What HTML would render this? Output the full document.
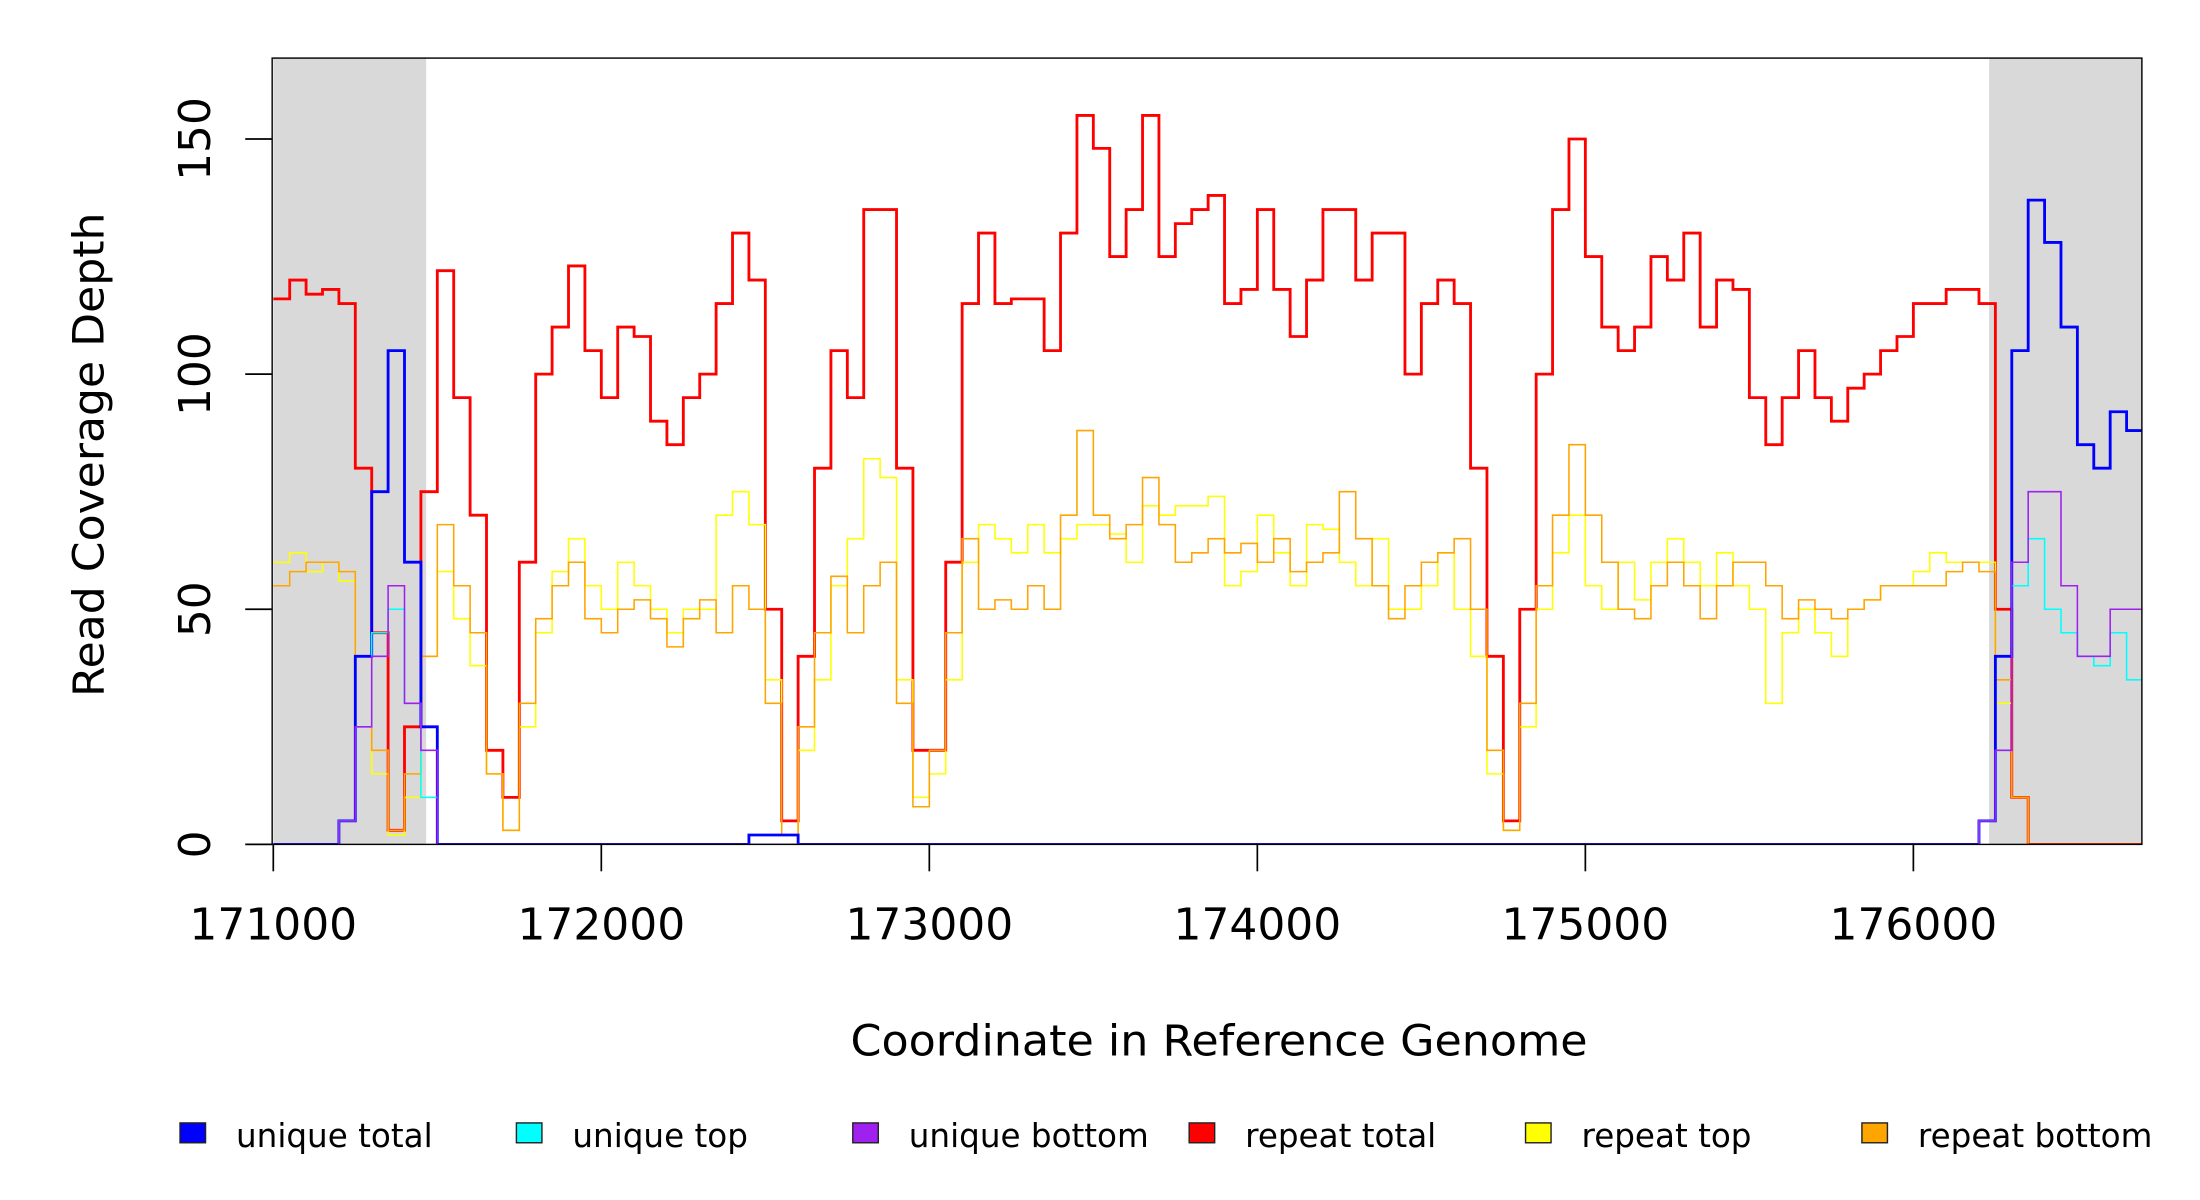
<!DOCTYPE html>
<html><head><meta charset="utf-8"><style>
html,body{margin:0;padding:0;background:#fff;}
svg{display:block;font-family:"DejaVu Sans","Liberation Sans",sans-serif;}
</style></head><body>
<svg id="chart" width="2200" height="1200" viewBox="0 0 1552 847" preserveAspectRatio="none" xmlns="http://www.w3.org/2000/svg">
<defs><clipPath id="plotclip"><rect x="192" y="41" width="1319" height="555"/></clipPath></defs>
<g id="shading"></g>
<g id="series" clip-path="url(#plotclip)"></g>
<rect x="192" y="41" width="1319" height="555" fill="none" stroke="#000" stroke-width="1"/>
<g id="yaxis"></g>
<g id="xaxis"></g>
<text x="860" y="745" font-size="30" text-anchor="middle" textLength="520" lengthAdjust="spacingAndGlyphs">Coordinate in Reference Genome</text>
<text transform="translate(73,321) rotate(-90)" font-size="30" text-anchor="middle" textLength="342" lengthAdjust="spacingAndGlyphs">Read Coverage Depth</text>
<g id="legend"></g>
</svg>
<script>
const startBp = 171000;
const binSize = 50;
const xTicks = [171000,172000,173000,174000,175000,176000];
const yTicks = [0,50,100,150];
const shadedRegions = [[171000,171466],[176231,176700]];
const repeatTotal = [116,120,117,118,115,80,45,3,25,75,122,95,70,20,10,60,100,110,123,105,95,110,108,90,85,95,100,115,130,120,50,5,40,80,105,95,135,135,80,20,20,60,115,130,115,116,116,105,130,155,148,125,135,155,125,132,135,138,115,118,135,118,108,120,135,135,120,130,130,100,115,120,115,80,40,5,50,100,135,150,125,110,105,110,125,120,130,110,120,118,95,85,95,105,95,90,97,100,105,108,115,115,118,118,115,50,10,0,0,0,0,0,0,0,0];
const repeatTop = [60,62,58,60,56,40,15,2,10,40,58,48,38,15,3,25,45,58,65,55,50,60,55,50,45,50,50,70,75,68,35,2,20,35,55,65,82,78,35,10,15,35,60,68,65,62,68,62,65,68,68,66,60,72,70,72,72,74,55,58,70,62,55,68,67,60,55,65,50,50,55,62,50,40,15,3,25,50,62,70,55,50,60,52,60,65,60,55,62,55,50,30,45,50,45,40,50,52,55,55,58,62,60,60,60,30,10,0,0,0,0,0,0,0,0];
const repeatBottom = [55,58,60,60,58,40,20,3,15,40,68,55,45,15,3,30,48,55,60,48,45,50,52,48,42,48,52,45,55,50,30,2,25,45,57,45,55,60,30,8,20,45,65,50,52,50,55,50,70,88,70,65,68,78,68,60,62,65,62,64,60,65,58,60,62,75,65,55,48,55,60,62,65,50,20,3,30,55,70,85,70,60,50,48,55,60,55,48,55,60,60,55,48,52,50,48,50,52,55,55,55,55,58,60,58,35,10,0,0,0,0,0,0,0,0];
const uniqueTotal = [0,0,0,0,5,40,75,105,60,25,0,0,0,0,0,0,0,0,0,0,0,0,0,0,0,0,0,0,0,2,2,2,0,0,0,0,0,0,0,0,0,0,0,0,0,0,0,0,0,0,0,0,0,0,0,0,0,0,0,0,0,0,0,0,0,0,0,0,0,0,0,0,0,0,0,0,0,0,0,0,0,0,0,0,0,0,0,0,0,0,0,0,0,0,0,0,0,0,0,0,0,0,0,0,5,40,105,137,128,110,85,80,92,88,66];
const uniqueTop = [0,0,0,0,5,25,45,50,30,10,0,0,0,0,0,0,0,0,0,0,0,0,0,0,0,0,0,0,0,0,0,0,0,0,0,0,0,0,0,0,0,0,0,0,0,0,0,0,0,0,0,0,0,0,0,0,0,0,0,0,0,0,0,0,0,0,0,0,0,0,0,0,0,0,0,0,0,0,0,0,0,0,0,0,0,0,0,0,0,0,0,0,0,0,0,0,0,0,0,0,0,0,0,0,5,20,55,65,50,45,40,38,45,35,27];
const uniqueBottom = [0,0,0,0,5,25,40,55,30,20,0,0,0,0,0,0,0,0,0,0,0,0,0,0,0,0,0,0,0,0,0,0,0,0,0,0,0,0,0,0,0,0,0,0,0,0,0,0,0,0,0,0,0,0,0,0,0,0,0,0,0,0,0,0,0,0,0,0,0,0,0,0,0,0,0,0,0,0,0,0,0,0,0,0,0,0,0,0,0,0,0,0,0,0,0,0,0,0,0,0,0,0,0,0,5,20,60,75,75,55,40,40,50,50,40];
const legendLabels = ["unique total","unique top","unique bottom","repeat total","repeat top","repeat bottom"];
const legendColors = ["#0000ff","#00ffff","#a020f0","#ff0000","#ffff00","#ffa500"];

const NS = "http://www.w3.org/2000/svg";
const X0 = 192.8, PX_PER_BP = 1157/5000;
const Y0 = 596, PX_PER_UNIT = 497.9/150;
function xs(bp){ return X0 + (bp-171000)*PX_PER_BP; }
function ys(v){ return Y0 - v*PX_PER_UNIT; }
function mk(tag, attrs, parent){ const e=document.createElementNS(NS,tag); for(const k in attrs) e.setAttribute(k,attrs[k]); parent.appendChild(e); return e; }

const shading = document.getElementById('shading');
shadedRegions.forEach(r=>{
  const x1 = Math.max(xs(r[0]),192), x2 = Math.min(xs(r[1]),1511);
  const e = mk('rect',{x:x1,y:41,width:x2-x1,height:555,fill:'#d9d9d9'},shading);
  
  
});

const seriesG = document.getElementById('series');
function stepPath(vals){
  let d = '';
  vals.forEach((v,i)=>{
    const x1 = xs(startBp+i*binSize), x2 = xs(startBp+(i+1)*binSize), y = ys(v);
    d += (i===0 ? `M${x1},${y}` : `V${y}`) + `H${x2}`;
  });
  return d;
}
const seriesList = [
  [repeatTotal,'#ff0000',2,'repeat-total-line'],
  [repeatTop,'#ffff00',1.1,'repeat-top-line'],
  [repeatBottom,'#ffa500',1.1,'repeat-bottom-line'],
  [uniqueTotal,'#0000ff',2,'unique-total-line'],
  [uniqueTop,'#00ffff',1.1,'unique-top-line'],
  [uniqueBottom,'#a020f0',1.1,'unique-bottom-line']
];
seriesList.forEach(s=>{
  const p = mk('path',{d:stepPath(s[0]),fill:'none',stroke:s[1],'stroke-width':s[2]},seriesG);
  
  
});

const yaxis = document.getElementById('yaxis');
yTicks.forEach(t=>{
  mk('line',{x1:173,x2:192,y1:ys(t),y2:ys(t),stroke:'#000','stroke-width':1.2},yaxis);
  const tx = mk('text',{transform:`translate(148,${ys(t)}) rotate(-90)`,'font-size':31,'text-anchor':'middle'},yaxis);
  tx.textContent = t;
  
  
});
const xaxis = document.getElementById('xaxis');
xTicks.forEach(t=>{
  mk('line',{x1:xs(t),x2:xs(t),y1:596,y2:615,stroke:'#000','stroke-width':1.2},xaxis);
  const tx = mk('text',{x:xs(t),y:663,'font-size':31,'text-anchor':'middle'},xaxis);
  tx.textContent = t;
  
  
});

const legend = document.getElementById('legend');
const legendX = [127,364.3,601.6,838.9,1076.2,1313.5];
legendLabels.forEach((lab,i)=>{
  const g = mk('g',{},legend);
  
  
  mk('rect',{x:legendX[i],y:792.6,width:18,height:14,fill:legendColors[i],stroke:'#222','stroke-width':1},g);
  const tx = mk('text',{x:legendX[i]+39.5,y:809.6,'font-size':23},g);
  tx.textContent = lab;
});
</script>
</body></html>
